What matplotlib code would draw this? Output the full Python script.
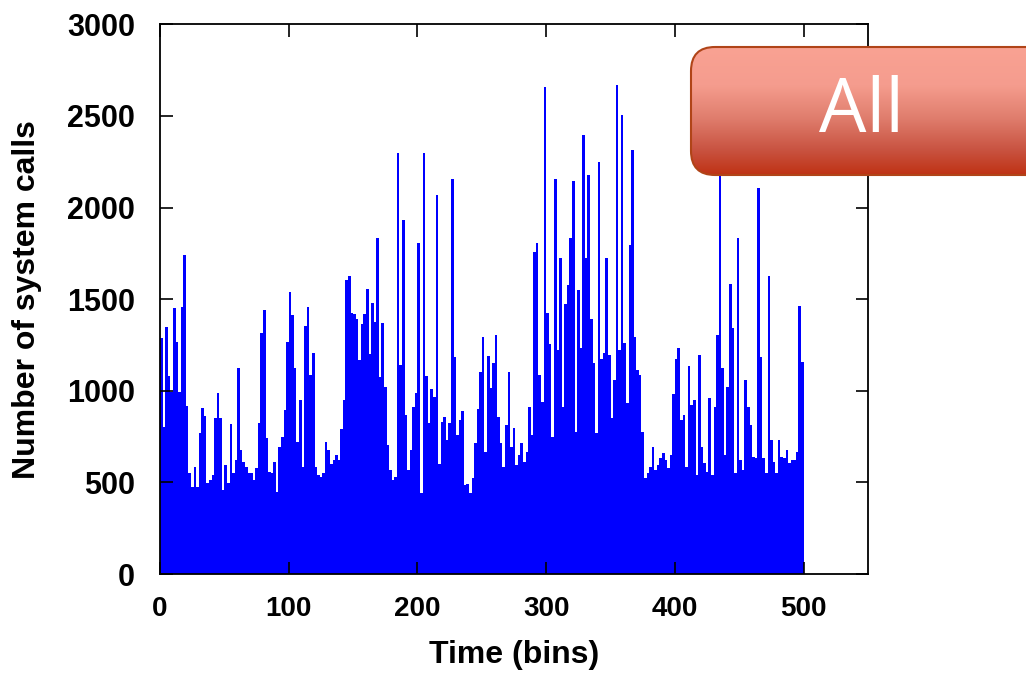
import numpy as np
import matplotlib
matplotlib.use("Agg")
import matplotlib.pyplot as plt
from matplotlib.patches import FancyBboxPatch
from matplotlib.colors import LinearSegmentedColormap

# system calls per 2-bin step (peaks)
calls = [
    1286, 800, 1350, 1082, 995, 1449, 1267, 995, 1455, 1740,
    918, 549, 477, 586, 477, 768, 904, 864, 495, 513,
    540, 849, 986, 849, 458, 595, 495, 818, 549, 622,
    1126, 677, 613, 586, 549, 549, 513, 577, 822, 1313,
    1440, 740, 558, 549, 613, 450, 695, 749, 895, 1264,
    1540, 1413, 1122, 722, 949, 586, 1353, 1455, 1086, 1204,
    585, 540, 531, 549, 722, 676, 603, 622, 649, 622,
    794, 949, 1603, 1627, 1425, 1421, 1394, 1167, 1367, 1421,
    1558, 1203, 1480, 1376, 1836, 1076, 1372, 1022, 703, 567,
    513, 531, 2300, 1140, 1934, 867, 567, 676, 912, 989,
    1807, 440, 2300, 1080, 822, 1012, 967, 2067, 603, 831,
    858, 731, 822, 2158, 1185, 758, 840, 891, 485, 494,
    440, 525, 716, 898, 1104, 1295, 667, 1189, 1013, 1149,
    1307, 858, 713, 585, 813, 1104, 695, 795, 595, 649,
    713, 613, 667, 909, 758, 1758, 1804, 1085, 940, 2658,
    1422, 1255, 749, 2154, 1222, 1722, 913, 1476, 1576, 1831,
    2144, 776, 1549, 1231, 2398, 1722, 2176, 1389, 1153, 767,
    2249, 1176, 1207, 1722, 1195, 849, 1058, 2671, 1222, 2507,
    1262, 931, 1794, 2313, 1295, 1113, 1085, 776, 522, 549,
    585, 695, 567, 595, 631, 658, 622, 576, 649, 985,
    1171, 1231, 840, 867, 585, 1135, 922, 949, 540, 1195,
    695, 604, 558, 958, 540, 913, 1304, 2300, 1122, 649,
    1022, 1580, 1340, 549, 1831, 622, 567, 1058, 913, 813,
    640, 631, 2109, 1186, 631, 549, 1625, 731, 613, 549,
    731, 640, 631, 676, 604, 622, 622, 667, 1462, 1158,
]
bin_step = 2
xticks = [0, 100, 200, 300, 400, 500]
yticks = [0, 500, 1000, 1500, 2000, 2500, 3000]

plt.rcParams["font.family"] = ["Liberation Sans", "DejaVu Sans"]

fig = plt.figure(figsize=(10.26, 6.73), dpi=100)
ax = fig.add_axes([0.156, 0.147, 0.690, 0.817])

bins = np.arange(len(calls)) * bin_step
ax.bar(bins, calls, width=bin_step, align="edge", color="#0000ff", linewidth=0)

ax.set_xlim(0, 550)
ax.set_ylim(0, 3000)
ax.set_xticks(xticks)
ax.set_yticks(yticks)
ax.tick_params(direction="in", length=9, width=1.2, top=True, right=True)
ax.tick_params(axis="x", labelsize=20, pad=16)
ax.tick_params(axis="y", labelsize=22, pad=18)
for lab in ax.get_xticklabels() + ax.get_yticklabels():
    lab.set_fontweight("bold")
for s in ax.spines.values():
    s.set_linewidth(1.3)

ax.set_xlabel("Time (bins)", fontsize=23, fontweight="bold", labelpad=13)
ax.set_ylabel("Number of system calls", fontsize=23, fontweight="bold", labelpad=18)

# "All" badge in the top right corner, drawn in pixel coordinates
ov = fig.add_axes([0, 0, 1, 1], zorder=5)
ov.set_xlim(0, 1026)
ov.set_ylim(673, 0)
ov.axis("off")
ov.patch.set_alpha(0)

badge = FancyBboxPatch((691, 47), 400, 128, boxstyle="round,pad=0,rounding_size=24",
                       facecolor="none", edgecolor="#b04418", linewidth=1.5, zorder=3)
ov.add_patch(badge)
cmap = LinearSegmentedColormap.from_list(
    "badge", [(0, "#f9a293"), (0.3, "#f59c8e"), (0.55, "#e07e6e"), (0.8, "#c95442"), (1, "#bf3214")])
grad = np.linspace(0, 1, 256).reshape(-1, 1)
img = ov.imshow(grad, cmap=cmap, extent=(691, 1091, 175, 47), aspect="auto", zorder=2)
img.set_clip_path(badge)
ov.set_xlim(0, 1026)
ov.set_ylim(673, 0)
ov.text(862, 113, "All", color="white", fontsize=54, family=["Open Sans", "DejaVu Sans"],
        ha="center", va="center", zorder=4)

fig.savefig("out.png", dpi=100)
